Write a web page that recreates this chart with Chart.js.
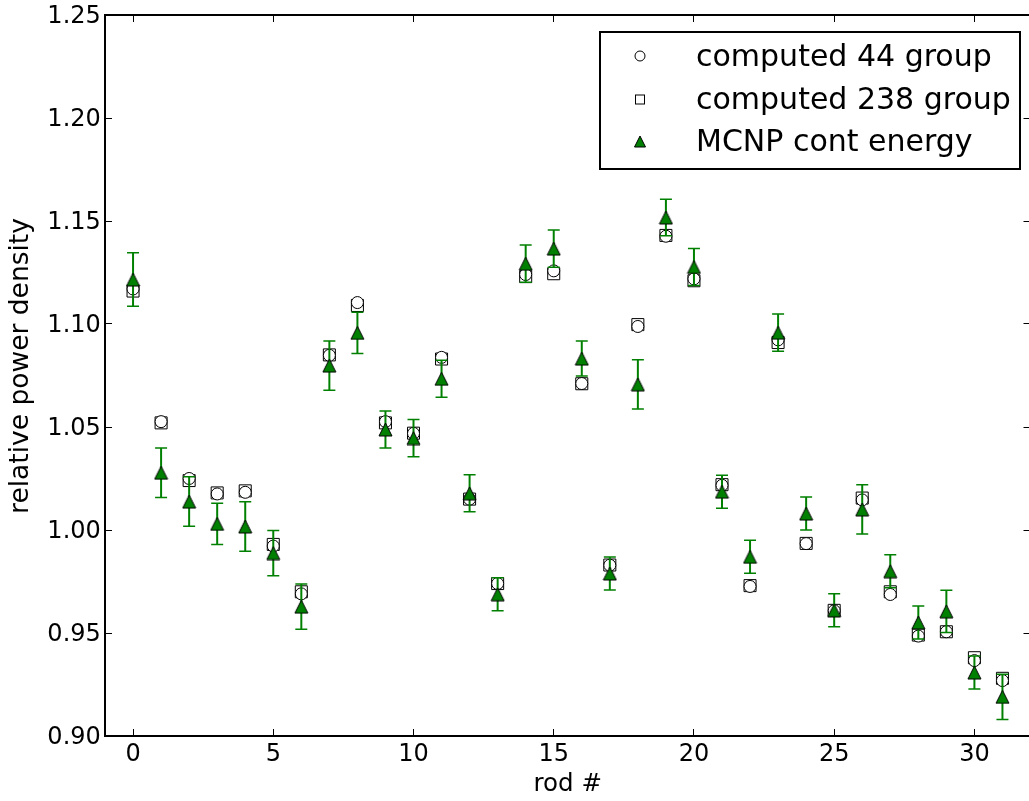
<!DOCTYPE html>
<html>
<head>
<meta charset="utf-8">
<script src="https://cdn.jsdelivr.net/npm/chart.js@4/dist/chart.umd.min.js"></script>
<style>
  html, body { margin: 0; padding: 0; background: #fff; overflow: hidden; }
  #wrap { width: 1029px; height: 801px; overflow: hidden; }
</style>
</head>
<body>
<div id="wrap"><canvas id="myChart" width="1040" height="801"></canvas></div>
<script>
// rod index
const rods = [0, 1, 2, 3, 4, 5, 6, 7, 8, 9, 10, 11, 12, 13, 14, 15,
  16, 17, 18, 19, 20, 21, 22, 23, 24, 25, 26, 27, 28, 29, 30, 31];

// computed 44 group
const c44 = [1.117, 1.0526, 1.025, 1.0175, 1.0183, 0.9922, 0.969, 1.0848,
  1.1104, 1.0526, 1.0469, 1.0838, 1.015, 0.974, 1.124, 1.1258,
  1.0711, 0.9829, 1.0988, 1.1426, 1.1219, 1.0217, 0.9726, 1.0923,
  0.9934, 0.9608, 1.0146, 0.9687, 0.9485, 0.9506, 0.9366, 0.9269];

// computed 238 group
const c238 = [1.116, 1.052, 1.024, 1.018, 1.019, 0.993, 0.970, 1.085,
  1.109, 1.052, 1.047, 1.083, 1.015, 0.974, 1.123, 1.1244,
  1.071, 0.983, 1.0997, 1.143, 1.121, 1.022, 0.973, 1.091,
  0.9935, 0.961, 1.0155, 0.970, 0.949, 0.9506, 0.938, 0.928];

// MCNP cont energy and its error
const mcnp = [1.1216, 1.0278, 1.0138, 1.003, 1.0017, 0.9888, 0.9628, 1.0798,
  1.0957, 1.0488, 1.0446, 1.0734, 1.0178, 0.9688, 1.1293, 1.1366,
  1.0832, 0.9789, 1.0707, 1.1517, 1.1277, 1.0186, 0.987, 1.0958,
  1.008, 0.961, 1.01, 0.98, 0.9551, 0.9605, 0.9308, 0.919];
const mcnpErr = [0.013, 0.012, 0.012, 0.010, 0.012, 0.011, 0.011, 0.012,
  0.010, 0.009, 0.009, 0.009, 0.009, 0.008, 0.009, 0.009,
  0.0085, 0.008, 0.012, 0.0088, 0.009, 0.008, 0.008, 0.009,
  0.008, 0.008, 0.012, 0.008, 0.008, 0.0103, 0.008, 0.011];

const xTicks = [0, 5, 10, 15, 20, 25, 30];
const yTicks = [0.90, 0.95, 1.00, 1.05, 1.10, 1.15, 1.20, 1.25];
const legendLabels = ['computed 44 group', 'computed 238 group', 'MCNP cont energy'];

const GREEN = '#008000';
const FONT = 'DejaVu Sans';

// matplotlib style '^' marker (centred on its box, not on the centroid)
function triangleMarker(size) {
  const c = document.createElement('canvas');
  c.width = size + 2;
  c.height = size + 2;
  const g = c.getContext('2d');
  g.beginPath();
  g.moveTo(1 + size / 2, 1);
  g.lineTo(1, 1 + size);
  g.lineTo(1 + size, 1 + size);
  g.closePath();
  g.fillStyle = GREEN;
  g.fill();
  g.lineWidth = 1;
  g.strokeStyle = '#000';
  g.stroke();
  return c;
}

const toPoints = (ys) => rods.map((r, i) => ({ x: r, y: ys[i] }));

// no extra room for half tick labels, the layout padding decides the plot box
function fixSize(s, w, h) {
  if (w !== null) s.width = w;
  if (h !== null) s.height = h;
  s.paddingTop = 0;
  s.paddingBottom = 0;
  s.paddingLeft = 0;
  s.paddingRight = 0;
}

const errorBars = {
  id: 'errorBars',
  beforeDatasetDraw(chart, args) {
    if (args.index !== 0) return;
    const { ctx, scales: { x, y } } = chart;
    ctx.save();
    ctx.strokeStyle = GREEN;
    rods.forEach((r, i) => {
      const px = x.getPixelForValue(r);
      const top = y.getPixelForValue(mcnp[i] + mcnpErr[i]);
      const bot = y.getPixelForValue(mcnp[i] - mcnpErr[i]);
      ctx.lineWidth = 2;
      ctx.beginPath();
      ctx.moveTo(px, top);
      ctx.lineTo(px, bot);
      ctx.stroke();
      ctx.lineWidth = 1.5;
      ctx.beginPath();
      ctx.moveTo(px - 6, top);
      ctx.lineTo(px + 6, top);
      ctx.moveTo(px - 6, bot);
      ctx.lineTo(px + 6, bot);
      ctx.stroke();
    });
    ctx.restore();
  }
};

const yLabel = {
  id: 'yLabel',
  afterDraw(chart) {
    const ctx = chart.ctx;
    ctx.save();
    ctx.translate(28, 366);
    ctx.rotate(-Math.PI / 2);
    ctx.font = '26.5px "' + FONT + '"';
    ctx.fillStyle = '#000';
    ctx.textAlign = 'center';
    ctx.textBaseline = 'alphabetic';
    ctx.fillText('relative power density', 0, 0);
    ctx.restore();
  }
};

const legendBox = {
  id: 'legendBox',
  afterDraw(chart) {
    const ctx = chart.ctx;
    ctx.save();
    ctx.fillStyle = '#fff';
    ctx.fillRect(600, 32, 420, 137);
    ctx.lineWidth = 2;
    ctx.strokeStyle = '#000';
    ctx.strokeRect(600, 32, 420, 137);

    const baselines = [66, 108.5, 150.5];
    const mx = 640;
    ctx.lineWidth = 1;
    // circle
    ctx.beginPath();
    ctx.arc(mx, 56, 5, 0, Math.PI * 2);
    ctx.fillStyle = '#fff';
    ctx.fill();
    ctx.stroke();
    // square
    ctx.fillRect(mx - 4.5, 95, 9, 9);
    ctx.strokeRect(mx - 4.5, 95, 9, 9);
    // triangle
    ctx.beginPath();
    ctx.moveTo(mx, 136);
    ctx.lineTo(mx - 5.5, 147);
    ctx.lineTo(mx + 5.5, 147);
    ctx.closePath();
    ctx.fillStyle = GREEN;
    ctx.fill();
    ctx.stroke();

    ctx.font = '30px "' + FONT + '"';
    ctx.fillStyle = '#000';
    ctx.textAlign = 'left';
    ctx.textBaseline = 'alphabetic';
    legendLabels.forEach((t, i) => ctx.fillText(t, 696, baselines[i]));
    ctx.restore();
  }
};

const tickFont = { family: FONT, size: 24 };
const gridOpts = { drawOnChartArea: false, drawTicks: true, tickLength: -7, color: '#000', lineWidth: 1 };
const borderOpts = { display: true, color: '#000', width: 2 };

const chartvar = document.getElementById('myChart');
const ctx = chartvar.getContext('2d');

const config = {
  type: 'scatter',
  data: {
    datasets: [
      {
        label: legendLabels[2],
        data: toPoints(mcnp),
        pointStyle: triangleMarker(13),
        pointRadius: 7,
        pointHoverRadius: 7
      },
      {
        label: legendLabels[0],
        data: toPoints(c44),
        pointStyle: 'circle',
        pointRadius: 6,
        pointHoverRadius: 6,
        backgroundColor: '#fff',
        borderColor: '#000',
        borderWidth: 1
      },
      {
        label: legendLabels[1],
        data: toPoints(c238),
        pointStyle: 'rect',
        pointRadius: 8.5,
        pointHoverRadius: 8.5,
        backgroundColor: 'rgba(255,255,255,0)',
        borderColor: '#000',
        borderWidth: 1
      }
    ]
  },
  options: {
    responsive: false,
    animation: false,
    events: [],
    layout: { padding: { top: 15, right: 6, left: 0, bottom: 0 } },
    plugins: {
      legend: { display: false },
      tooltip: { enabled: false }
    },
    scales: {
      x: {
        type: 'linear',
        position: 'bottom',
        min: -1,
        max: 32,
        afterBuildTicks: (s) => { s.ticks = xTicks.map((v) => ({ value: v })); },
        afterFit: (s) => fixSize(s, null, 65),
        grid: gridOpts,
        border: borderOpts,
        ticks: { font: tickFont, color: '#000', padding: 11.6, maxRotation: 0, autoSkip: false },
        title: {
          display: true,
          text: 'rod #',
          font: { family: FONT, size: 24.5 },
          color: '#000',
          padding: { top: 0, bottom: 2 }
        }
      },
      x2: {
        type: 'linear',
        axis: 'x',
        position: 'top',
        min: -1,
        max: 32,
        afterBuildTicks: (s) => { s.ticks = xTicks.map((v) => ({ value: v })); },
        afterFit: (s) => fixSize(s, null, 0),
        grid: gridOpts,
        border: borderOpts,
        ticks: { display: false }
      },
      y: {
        type: 'linear',
        position: 'left',
        min: 0.90,
        max: 1.25,
        afterBuildTicks: (s) => { s.ticks = yTicks.map((v) => ({ value: v })); },
        afterFit: (s) => fixSize(s, 105, null),
        grid: gridOpts,
        border: borderOpts,
        ticks: {
          font: tickFont,
          color: '#000',
          padding: 11.2,
          labelOffset: 2,
          autoSkip: false,
          callback: (v) => Number(v).toFixed(2)
        }
      },
      y2: {
        type: 'linear',
        axis: 'y',
        position: 'right',
        min: 0.90,
        max: 1.25,
        afterBuildTicks: (s) => { s.ticks = yTicks.map((v) => ({ value: v })); },
        afterFit: (s) => fixSize(s, 0, null),
        grid: gridOpts,
        border: borderOpts,
        ticks: { display: false }
      }
    }
  },
  plugins: [errorBars, yLabel, legendBox]
};

const myChart = new Chart(ctx, config);
</script>
</body>
</html>
